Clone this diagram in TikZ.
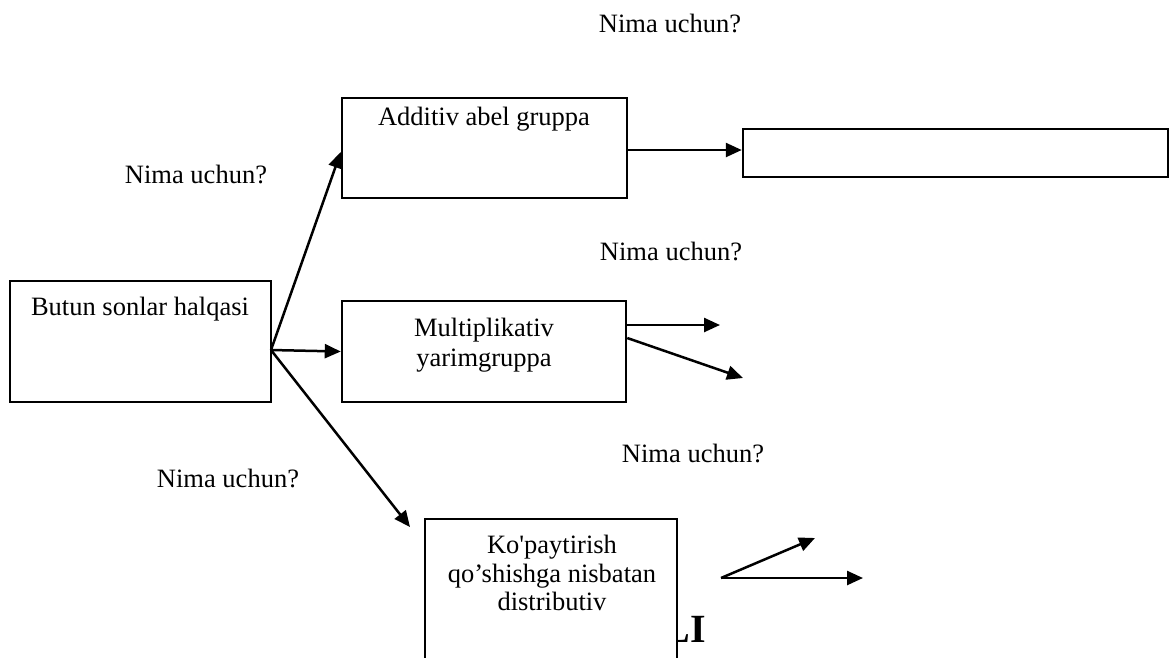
\documentclass[tikz,border=0pt]{standalone}
\usepackage{fontspec}
\setmainfont{Liberation Serif}
\newfontfamily\plainserif{Liberation Serif}
\usetikzlibrary{arrows.meta}
\tikzset{
  txt/.style={inner sep=0pt, font=\plainserif\fontsize{26.5}{30}\selectfont},
  boxtxt/.style={inner sep=0pt, align=center, anchor=north},
  box/.style={draw, line width=2.5pt, fill=white, inner sep=0pt},
  conn/.style={line width=2.5pt, -{Triangle[length=16pt,width=14pt]}}
}
\begin{document}
\begin{tikzpicture}[x=1pt,y=-1pt]
\useasboundingbox (0,0) rectangle (1172,657);
\clip (0,0) rectangle (1172,657);
% question labels
\node[txt, anchor=base] (q1) at (670,32) {Nima uchun?};
\node[txt, anchor=base] (q2) at (196,183) {Nima uchun?};
\node[txt, anchor=base] (q3) at (671,260) {Nima uchun?};
\node[txt, anchor=base] (q4) at (693,462) {Nima uchun?};
\node[txt, anchor=base] (q5) at (228,487) {Nima uchun?};
% partially hidden bold text
\node[inner sep=0pt, anchor=base east, font=\plainserif\fontsize{40}{40}\selectfont\bfseries] (li) at (706,642) {LI};
% boxes
\node[box, minimum width=261pt, minimum height=121pt] (butun) at (140.5,341.5) {};
\node[box, minimum width=285pt, minimum height=100pt] (add) at (484.5,148) {};
\node[box, minimum width=425pt, minimum height=48pt] (right) at (955.5,153) {};
\node[box, minimum width=284pt, minimum height=101pt] (multi) at (484,351.5) {};
\node[box, minimum width=252pt, minimum height=200pt] (kop) at (551,619) {};
% box texts
\node[txt, anchor=base] (butunt) at (140,315) {Butun sonlar halqasi};
\node[txt, anchor=base] (addt) at (484,125) {Additiv abel gruppa};
\node[txt, boxtxt, font=\plainserif\fontsize{26.5}{30}\selectfont] (multit) at (484,318) {Multiplikativ\\yarimgruppa};
\node[txt, boxtxt, font=\plainserif\fontsize{26.5}{28.5}\selectfont] (kopt) at (552,535) {Ko'paytirish\\qo’shishga nisbatan\\distributiv};
% connectors
\coordinate (j) at (271,350);
\coordinate (d1) at (410,527);
\draw[conn] (j) -- ([yshift=-4pt]add.west);
\draw[conn] (j) -- (multi.west);
\draw[conn] (j) -- (d1);
\draw[conn] ([yshift=-2pt]add.east) -- (right.west |- 0,150);
\coordinate (m1) at (720,325);
\coordinate (m2) at (743,378);
\draw[conn] (multi.east |- 0,325) -- (m1);
\draw[conn] (multi.east |- 0,338) -- (m2);
\coordinate (k) at (721,578);
\coordinate (k1) at (815,538);
\coordinate (k2) at (863,578);
\draw[conn] (k) -- (k1);
\draw[conn] (k) -- (k2);
\end{tikzpicture}
\end{document}
